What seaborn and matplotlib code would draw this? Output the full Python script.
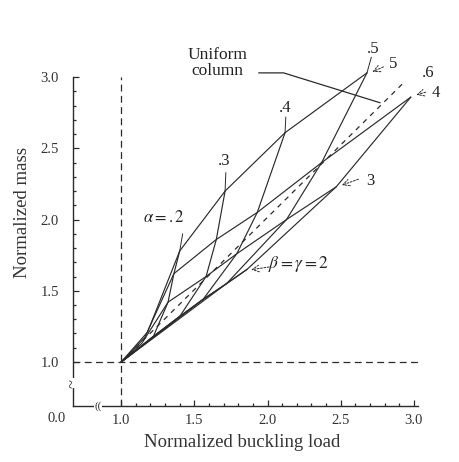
import matplotlib
matplotlib.use("Agg")
import numpy as np
import pandas as pd
import matplotlib.pyplot as plt
import seaborn as sns

# carpet of designs: rows are beta = gamma, columns are alpha
# (first column alpha = .1 only shapes the beta rows, no alpha line drawn for it)
alpha_vals = [0.1, 0.2, 0.3, 0.4, 0.5, 0.6]
beta_vals = [2, 3, 4, 5]

load_b2 = [1.10, 1.22, 1.40, 1.56, 1.72, 1.86]
mass_b2 = [1.08, 1.18, 1.32, 1.44, 1.55, 1.65]
load_b3 = [1.14, 1.32, 1.58, 1.79, 2.13, 2.47]
mass_b3 = [1.13, 1.42, 1.60, 1.76, 2.00, 2.23]
load_b4 = [1.16, 1.36, 1.65, 1.93, 2.37, 2.98]
mass_b4 = [1.17, 1.62, 1.86, 2.05, 2.40, 2.86]
load_b5 = [1.18, 1.40, 1.71, 2.12, 2.68]
mass_b5 = [1.21, 1.78, 2.20, 2.61, 3.03]

# uniform column reference
uniform_load = [1.0, 2.92]
uniform_mass = [1.0, 2.95]

start_load, start_mass = 1.0, 1.0

x_major = [1.0, 1.5, 2.0, 2.5, 3.0]
y_major = [1.0, 1.5, 2.0, 2.5, 3.0]

loads = [load_b2, load_b3, load_b4, load_b5]
masses = [mass_b2, mass_b3, mass_b4, mass_b5]

rows = []
for b, xs, ys in zip(beta_vals, loads, masses):
    pts = [(start_load, start_mass)] + list(zip(xs, ys))
    for k, (x, y) in enumerate(pts):
        rows.append(dict(curve=f"beta{b}", order=k, load=x, mass=y))
for i, a in enumerate(alpha_vals):
    if a < 0.15:
        continue
    pts = [(start_load, start_mass), (loads[0][i - 1], masses[0][i - 1])]
    for xs, ys in zip(loads, masses):
        if i < len(xs):
            pts.append((xs[i], ys[i]))
    for k, (x, y) in enumerate(pts):
        rows.append(dict(curve=f"alpha{a}", order=k, load=x, mass=y))
df = pd.DataFrame(rows)

sns.set_theme(style="ticks")
plt.rcParams["font.family"] = ["Liberation Serif", "DejaVu Serif"]
plt.rcParams["mathtext.fontset"] = "stix"

ink = "#2b2b2b"
fig = plt.figure(figsize=(4.59, 4.62), dpi=100)
ax = fig.add_axes([0.159, 0.121, 0.752, 0.712])

sns.lineplot(data=df, x="load", y="mass", units="curve", estimator=None,
             sort=False, color=ink, linewidth=0.85, ax=ax)
for ln in ax.lines:
    ln.set_clip_on(False)

ax.plot(uniform_load, uniform_mass, color=ink, lw=0.9, ls=(0, (4, 4)))
ax.axhline(1.0, color=ink, lw=0.9, ls=(0, (5.5, 3.5)))
ax.axvline(1.0, color=ink, lw=0.9, ls=(0, (5.5, 3.5)))

# leaders above the top row up to the alpha labels
lead_kw = dict(color=ink, lw=0.7, clip_on=False)
ax.plot([1.71, 1.715], [2.20, 2.33], **lead_kw)
ax.plot([2.12, 2.125], [2.61, 2.72], **lead_kw)
ax.plot([2.68, 2.71], [3.03, 3.14], **lead_kw)
ax.plot([1.40, 1.42], [1.78, 1.90], **lead_kw)

ax.set_xlim(0.67, 3.03)
ax.set_ylim(0.69, 3.0)
ax.set_xticks(x_major)
ax.set_xticklabels([f"{v:.1f}" for v in x_major])
ax.set_yticks(y_major)
ax.set_yticklabels([f"{v:.1f}" for v in y_major])
ax.set_xticks(np.arange(1.1, 3.0, 0.1), minor=True)
ax.set_yticks(np.arange(1.1, 3.0, 0.1), minor=True)
ax.tick_params(which="both", direction="in", color=ink, labelsize=10.5,
               labelcolor="#333333", width=0.9)
ax.tick_params(axis="y", which="major", length=4.5, pad=10)
ax.tick_params(axis="x", which="major", length=4.5, pad=6)
ax.tick_params(which="minor", length=2.5)
ax.spines[["top", "right"]].set_visible(False)
for s in ["left", "bottom"]:
    ax.spines[s].set_color(ink)
    ax.spines[s].set_linewidth(1.0)
ax.set_xlabel("")
ax.set_ylabel("")

# axis breaks and corner label
ax.text(0.671, 0.85, "~", fontsize=12, ha="center", va="center", color=ink,
        rotation=90, bbox=dict(fc="white", ec="none", pad=0.5), clip_on=False)
ax.text(0.84, 0.691, "((", fontsize=8, ha="center", va="center", color=ink,
        bbox=dict(fc="white", ec="none", pad=0.3), clip_on=False)
ax.text(0.56, 0.60, "0.0", fontsize=10.5, ha="center", va="center", color="#333333")

fig.text(0.527, 0.043, "Normalized buckling load", fontsize=13.5, ha="center",
         va="center", color="#333333")
fig.text(0.05, 0.54, "Normalized mass", fontsize=13.5, ha="center", va="center",
         rotation=90, color="#333333")

# curve labels
lab = dict(fontsize=12, color="#222222", ha="center", va="center")
ax.text(1.70, 2.41, ".3", **lab)
ax.text(2.12, 2.78, ".4", **lab)
ax.text(2.72, 3.20, ".5", **lab)
ax.text(3.10, 3.03, ".6", **lab)
ax.text(2.86, 3.09, "5", **lab)
ax.text(3.15, 2.89, "4", **lab)
ax.text(2.70, 2.27, "3", **lab)
ax.text(1.29, 2.01, r"$\alpha = .2$", **lab)
ax.text(2.21, 1.69, r"$\beta = \gamma = 2$", fontsize=12.5, color="#222222",
        ha="center", va="center", fontweight="bold")
ax.text(1.66, 3.10, "Uniform\ncolumn", fontsize=12.5, color="#222222",
        ha="center", va="center", linespacing=1.0)

arrow = dict(arrowstyle="->", color=ink, lw=0.7, ls=(0, (2, 1.5)))
ax.annotate("", xy=(1.87, 1.645), xytext=(2.03, 1.67), arrowprops=arrow)
ax.annotate("", xy=(2.49, 2.235), xytext=(2.64, 2.29), arrowprops=arrow)
ax.annotate("", xy=(2.70, 3.03), xytext=(2.81, 3.08), arrowprops=arrow,
            annotation_clip=False)
ax.annotate("", xy=(3.00, 2.87), xytext=(3.10, 2.90), arrowprops=arrow,
            annotation_clip=False)
ax.plot([1.94, 2.11, 2.77], [3.03, 3.03, 2.82], color=ink, lw=0.9, clip_on=False)

fig.savefig("out.png", dpi=100)
